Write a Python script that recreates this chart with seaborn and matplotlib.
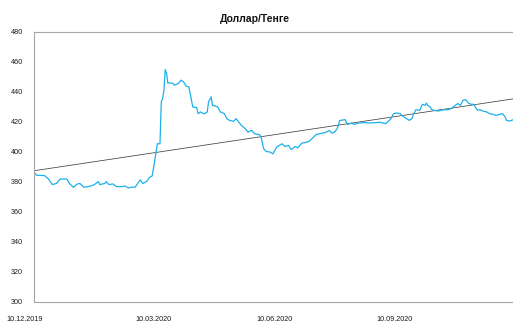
import numpy as np
import pandas as pd
import matplotlib
matplotlib.use("Agg")
import matplotlib.pyplot as plt
import matplotlib.dates as mdates
import matplotlib.transforms as mtrans
import seaborn as sns

sns.set_theme(style="white")
plt.rcParams['font.family'] = ['Liberation Sans', 'DejaVu Sans']

# USD/KZT rate
dates = [
    "2019-12-10", "2019-12-12", "2019-12-18", "2019-12-21", "2019-12-24", "2019-12-27", "2019-12-30",
    "2020-01-04", "2020-01-06", "2020-01-09", "2020-01-12", "2020-01-14", "2020-01-17", "2020-01-20",
    "2020-01-23", "2020-01-25", "2020-01-28", "2020-01-29", "2020-02-02", "2020-02-03", "2020-02-05",
    "2020-02-08", "2020-02-11", "2020-02-15", "2020-02-17", "2020-02-20", "2020-02-22", "2020-02-25",
    "2020-02-27", "2020-02-29", "2020-03-02", "2020-03-05", "2020-03-07", "2020-03-09", "2020-03-10",
    "2020-03-12", "2020-03-13", "2020-03-15", "2020-03-16", "2020-03-17", "2020-03-18", "2020-03-19",
    "2020-03-20", "2020-03-21", "2020-03-23", "2020-03-25", "2020-03-26", "2020-03-29", "2020-03-31",
    "2020-04-02", "2020-04-04", "2020-04-06", "2020-04-07", "2020-04-08", "2020-04-09", "2020-04-12",
    "2020-04-13", "2020-04-15", "2020-04-17", "2020-04-18", "2020-04-20", "2020-04-21", "2020-04-23",
    "2020-04-24", "2020-04-26", "2020-04-28", "2020-04-30", "2020-05-03", "2020-05-05", "2020-05-07",
    "2020-05-10", "2020-05-12", "2020-05-14", "2020-05-16", "2020-05-19", "2020-05-21", "2020-05-24",
    "2020-05-26", "2020-05-30", "2020-05-31", "2020-06-02", "2020-06-04", "2020-06-07", "2020-06-09",
    "2020-06-12", "2020-06-16", "2020-06-18", "2020-06-21", "2020-06-23", "2020-06-26", "2020-06-28",
    "2020-07-01", "2020-07-05", "2020-07-07", "2020-07-10", "2020-07-12", "2020-07-15", "2020-07-17",
    "2020-07-20", "2020-07-22", "2020-07-24", "2020-07-26", "2020-07-28", "2020-07-30", "2020-07-31",
    "2020-08-03", "2020-08-04", "2020-08-05", "2020-08-08", "2020-08-10", "2020-08-13", "2020-08-18",
    "2020-08-22", "2020-08-26", "2020-08-30", "2020-09-01", "2020-09-03", "2020-09-05", "2020-09-07",
    "2020-09-09", "2020-09-11", "2020-09-14", "2020-09-16", "2020-09-19", "2020-09-21", "2020-09-23",
    "2020-09-24", "2020-09-26", "2020-09-29", "2020-09-30", "2020-10-01", "2020-10-03", "2020-10-04",
    "2020-10-05", "2020-10-07", "2020-10-08", "2020-10-10", "2020-10-13", "2020-10-15", "2020-10-18",
    "2020-10-20", "2020-10-23", "2020-10-26", "2020-10-28", "2020-10-30", "2020-11-01", "2020-11-03",
    "2020-11-05", "2020-11-07", "2020-11-09", "2020-11-11", "2020-11-12", "2020-11-14", "2020-11-16",
    "2020-11-19", "2020-11-21", "2020-11-24", "2020-11-26", "2020-11-29", "2020-12-01", "2020-12-03",
    "2020-12-04", "2020-12-06", "2020-12-08", "2020-12-09",
]
rate = [
    386.5, 384.5, 384.3, 382.0, 378.3, 379.0, 382.0,
    382.0, 379.0, 376.5, 378.7, 379.0, 376.5, 376.9,
    377.5, 378.3, 380.3, 378.3, 379.0, 380.3, 378.3,
    378.7, 376.9, 376.9, 377.4, 376.0, 376.5, 376.5,
    379.0, 381.4, 379.0, 380.5, 383.0, 384.0, 388.8,
    399.9, 405.5, 405.5, 433.4, 435.6, 441.2, 455.0,
    452.3, 446.0, 446.0, 445.7, 444.5, 445.7, 447.9,
    446.7, 443.9, 443.4, 439.0, 434.5, 430.0, 429.6,
    425.6, 426.7, 425.6, 425.6, 426.7, 433.4, 436.7,
    431.1, 430.7, 430.0, 426.7, 425.6, 422.2, 421.1,
    420.4, 422.2, 420.0, 417.8, 415.5, 413.3, 414.4,
    412.2, 411.5, 410.0, 402.2, 400.4, 399.9, 398.8,
    403.3, 405.5, 403.7, 404.4, 401.5, 403.7, 402.8,
    405.9, 406.6, 407.3, 410.0, 411.7, 412.2, 412.6,
    413.3, 414.4, 412.6, 413.3, 415.5, 421.1, 421.1,
    421.6, 420.0, 418.4, 419.3, 418.4, 419.3, 419.6,
    419.3, 419.6, 419.8, 419.3, 418.9, 420.6, 422.2,
    425.6, 426.0, 425.6, 423.8, 422.2, 421.1, 422.2,
    424.9, 428.2, 427.8, 430.0, 431.8, 431.1, 432.6,
    431.1, 430.0, 428.2, 427.8, 427.3, 427.8, 428.2,
    428.2, 428.9, 431.1, 432.3, 431.1, 434.5, 434.9,
    432.6, 431.8, 431.8, 428.9, 427.8, 428.2, 427.3,
    426.7, 425.6, 425.1, 424.4, 425.1, 425.6, 423.4,
    421.1, 420.6, 421.1, 421.5,
]

# linear trend line (end points)
trend_dates = ["2019-12-10", "2020-12-09"]
trend_vals = [387.5, 435.4]

xtick_dates = ["2019-12-10", "2020-03-10", "2020-06-10", "2020-09-10"]
yticks = list(range(300, 481, 20))

df = pd.DataFrame({"date": pd.to_datetime(dates), "rate": rate})
tr = pd.DataFrame({"date": pd.to_datetime(trend_dates), "rate": trend_vals})

fig = plt.figure(figsize=(5.13, 3.25), dpi=100)
ax = fig.add_axes([34/513, 1 - 302/325, 1 - 34/513, 270/325])

sns.lineplot(data=tr, x="date", y="rate", color="#404040", lw=0.55, ax=ax)
sns.lineplot(data=df, x="date", y="rate", color="#1CB0EC", lw=0.9, ax=ax)

ax.set_xlim(pd.Timestamp("2019-12-10"), pd.Timestamp("2020-12-09"))
ax.set_ylim(300, 480)
ax.set_yticks(yticks)
ax.set_xticks(pd.to_datetime(xtick_dates))
ax.xaxis.set_major_formatter(mdates.DateFormatter("%d.%m.%Y"))
ax.set_xlabel("")
ax.set_ylabel("")

for s in ["left", "bottom", "top"]:
    ax.spines[s].set_color("#a6a6a6")
    ax.spines[s].set_linewidth(0.8)
ax.spines["right"].set_visible(False)

ax.tick_params(axis="y", length=0, pad=8, labelsize=5.2, labelcolor="#1a1a1a")
ax.tick_params(axis="x", direction="in", length=2, width=0.6, color="#a6a6a6",
               pad=10, labelsize=5.2, labelcolor="#1a1a1a")

# first date label sits a little left of the axis start in the original
first = ax.get_xticklabels()[0]
first.set_transform(first.get_transform() + mtrans.ScaledTranslation(-0.09, 0, fig.dpi_scale_trans))

fig.text(0.497, 1 - 19/325, "Доллар/Тенге", ha="center", va="center",
         fontsize=7.5, fontweight="bold", color="#111111")

fig.savefig("out.png", dpi=100)
